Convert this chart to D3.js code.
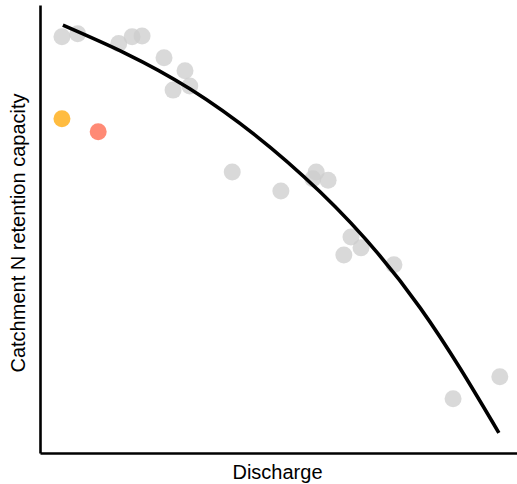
<!DOCTYPE html>
<html>
<head>
<meta charset="utf-8">
<script src="https://cdn.jsdelivr.net/npm/d3@7"></script>
<style>
  body { margin: 0; background: #fff; }
  text { font-family: "Liberation Sans", Arial, sans-serif; }
</style>
</head>
<body>
<div id="chart"></div>
<script>
// grey sites (discharge, retention capacity), arbitrary units
const greyX = [4.6, 7.9, 16.5, 19.3, 21.4, 26.0, 30.4, 27.9, 31.4, 40.3, 50.5, 57.9, 57.2, 60.4, 65.2, 67.3, 63.7, 74.2, 86.6, 96.4];
const greyY = [92.9, 93.6, 91.4, 92.9, 93.1, 88.2, 85.3, 81.0, 81.9, 62.7, 58.5, 62.7, 61.2, 60.9, 48.2, 45.8, 44.2, 42.0, 12.1, 17.0];

// highlighted sites
const highlightX = [4.6, 12.2];
const highlightY = [74.6, 71.7];
const highlightColor = ["orange", "tomato"];

// fitted curve
const fitX = [4.8, 31.4, 58.7, 79.7, 96.2];
const fitY = [95.5, 81.3, 58.3, 32.4, 4.5];

const margin = {top: 5, right: 0, bottom: 31, left: 40},
      width = 517 - margin.left - margin.right,
      height = 484 - margin.top - margin.bottom;

const svg = d3.select("#chart")
              .append("svg")
              .attr("width", width + margin.left + margin.right)
              .attr("height", height + margin.top + margin.bottom)
              .append("g")
              .attr("transform", `translate(${margin.left},${margin.top})`);

const x = d3.scaleLinear().domain([0, 100]).range([0, width]);
const y = d3.scaleLinear().domain([0, 100]).range([height, 0]);

// axes: plain lines, no ticks
svg.append("g")
   .attr("transform", `translate(0,${height})`)
   .call(d3.axisBottom(x).ticks(0).tickSizeOuter(0))
   .select(".domain")
   .attr("stroke", "#000")
   .attr("stroke-width", 2.6);

svg.append("g")
   .call(d3.axisLeft(y).ticks(0).tickSizeOuter(0))
   .select(".domain")
   .attr("stroke", "#000")
   .attr("stroke-width", 2.6);

// grey points
const greyData = greyX.map((d, i) => ({x: d, y: greyY[i]}));
svg.selectAll(".grey")
   .data(greyData)
   .join("circle")
   .attr("class", "grey")
   .attr("cx", d => x(d.x))
   .attr("cy", d => y(d.y))
   .attr("r", 8.5)
   .attr("fill", "#cccccc")
   .attr("fill-opacity", 0.75);

// highlighted points
const hlData = highlightX.map((d, i) => ({x: d, y: highlightY[i], c: highlightColor[i]}));
svg.selectAll(".hl")
   .data(hlData)
   .join("circle")
   .attr("class", "hl")
   .attr("cx", d => x(d.x))
   .attr("cy", d => y(d.y))
   .attr("r", 8.5)
   .attr("fill", d => d.c)
   .attr("fill-opacity", 0.75);

// fitted curve
const fitData = fitX.map((d, i) => ({x: d, y: fitY[i]}));
const line = d3.line()
               .curve(d3.curveNatural)
               .x(d => x(d.x))
               .y(d => y(d.y));

svg.append("path")
   .datum(fitData)
   .attr("d", line)
   .attr("fill", "none")
   .attr("stroke", "#000")
   .attr("stroke-width", 3.6);

// axis titles
svg.append("text")
   .attr("x", width / 2 - 1)
   .attr("y", height + 26)
   .attr("text-anchor", "middle")
   .style("font-size", "20px")
   .attr("fill", "#000")
   .text("Discharge");

svg.append("text")
   .attr("transform", "rotate(-90)")
   .attr("x", -228)
   .attr("y", -15)
   .attr("text-anchor", "middle")
   .style("font-size", "20px")
   .attr("fill", "#000")
   .text("Catchment N retention capacity");
</script>
</body>
</html>
